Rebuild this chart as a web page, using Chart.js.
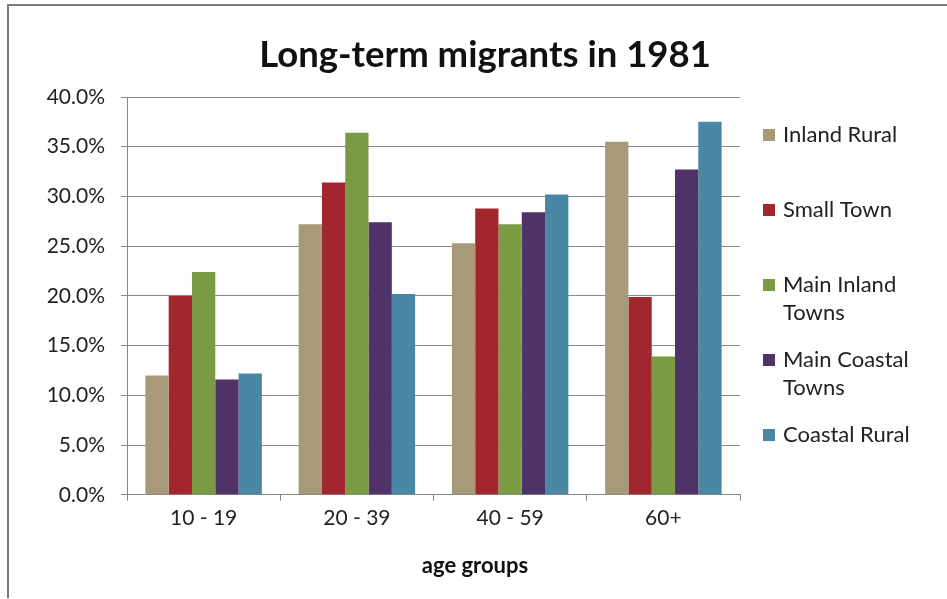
<!DOCTYPE html>
<html>
<head>
<meta charset="utf-8">
<title>Long-term migrants in 1981</title>
<script src="https://cdn.jsdelivr.net/npm/chart.js@4"></script>
<style>
    body { margin: 0; background: #fff; overflow: hidden; }
    #wrap { position: relative; width: 947px; height: 599px; overflow: hidden; }
    #frame {
        position: absolute; left: 7px; top: 4px; width: 2000px; height: 592px;
        border-left: 2px solid #7a7a7a; border-top: 2px solid #7a7a7a;
        pointer-events: none;
    }
</style>
</head>
<body>
<div id="wrap">
    <canvas id="myChart" width="947" height="599"></canvas>
    <div id="frame"></div>
</div>
<script>
// données
const ageGroups = ['10 - 19', '20 - 39', '40 - 59', '60+'];
const seriesNames = ['Inland Rural', 'Small Town', 'Main Inland Towns', 'Main Coastal Towns', 'Coastal Rural'];
const inlandRural = [12.0, 27.2, 25.3, 35.5];
const smallTown = [20.0, 31.4, 28.8, 19.9];
const mainInlandTowns = [22.4, 36.4, 27.2, 13.9];
const mainCoastalTowns = [11.6, 27.4, 28.4, 32.7];
const coastalRural = [12.2, 20.2, 30.2, 37.5];
const yTicks = [0, 5, 10, 15, 20, 25, 30, 35, 40];

const colors = ['#a89a78', '#a1262e', '#7a9a44', '#4e3268', '#4a87a5'];
const chartTitle = 'Long-term migrants in 1981';
const xAxisTitle = 'age groups';
const fontName = 'Lato, "Open Sans", sans-serif';

// titres + légende dessinés à la main (légende sur plusieurs lignes comme Excel)
const sideLegend = {
    id: 'sideLegend',
    afterDraw(chart) {
        const ctx = chart.ctx;
        const area = chart.chartArea;
        ctx.save();
        ctx.fillStyle = '#111';
        ctx.font = 'bold 36.5px ' + fontName;
        ctx.textAlign = 'center';
        ctx.textBaseline = 'middle';
        ctx.fillText(chartTitle, 485, 55);

        // titre de l'axe x, un peu décalé vers la droite
        ctx.font = 'bold 22px ' + fontName;
        ctx.fillText(xAxisTitle, 475, area.bottom + 71);

        ctx.font = '22px ' + fontName;
        ctx.textAlign = 'left';
        const x = area.right + 23;
        chart.data.datasets.forEach(function(ds, i) {
            const y = area.top + 38 + i * 75;
            // coupure des mots trop longs
            const words = ds.label.split(' ');
            const lines = [];
            let line = '';
            words.forEach(function(w) {
                const test = line ? line + ' ' + w : w;
                if (ctx.measureText(test).width > 155 && line) {
                    lines.push(line);
                    line = w;
                } else {
                    line = test;
                }
            });
            lines.push(line);
            ctx.fillStyle = ds.backgroundColor;
            ctx.fillRect(x, y - 6, 12, 12);
            ctx.fillStyle = '#222';
            lines.forEach(function(l, k) {
                ctx.fillText(l, x + 20, y + k * 28);
            });
        });
        ctx.restore();
    }
};

const seriesData = [inlandRural, smallTown, mainInlandTowns, mainCoastalTowns, coastalRural];

var ctx = document.getElementById('myChart').getContext('2d');
var myChart = new Chart(ctx, {
    type: 'bar',
    data: {
        labels: ageGroups,
        datasets: seriesNames.map(function(name, i) {
            return {
                label: name,
                data: seriesData[i],
                backgroundColor: colors[i],
                borderWidth: 0,
                categoryPercentage: 0.76,
                barPercentage: 1.0
            };
        })
    },
    options: {
        responsive: false,
        animation: false,
        layout: { padding: { top: 97, right: 207, left: 0, bottom: 63 } },
        plugins: {
            legend: { display: false },
            title: { display: false },
            tooltip: { enabled: false }
        },
        scales: {
            x: {
                grid: { display: true, drawOnChartArea: false, offset: true, tickLength: 6, color: '#888' },
                border: { color: '#888' },
                ticks: { color: '#222', font: { family: fontName, size: 21 }, padding: 5 }
            },
            y: {
                min: 0,
                max: 40,
                afterBuildTicks: function(scale) {
                    scale.ticks = yTicks.map(function(v) { return { value: v }; });
                },
                afterFit: function(scale) {
                    scale.width = 127;
                },
                grid: { color: '#8a8a8a', tickLength: 6 },
                border: { color: '#888' },
                ticks: {
                    color: '#222',
                    font: { family: fontName, size: 21 },
                    padding: 16,
                    callback: function(v) { return v.toFixed(1) + '%'; }
                }
            }
        }
    },
    plugins: [sideLegend]
});
</script>
</body>
</html>
